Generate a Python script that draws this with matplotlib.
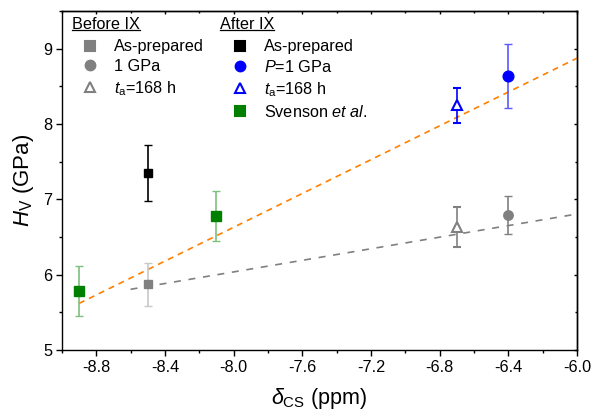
import matplotlib
matplotlib.use("Agg")
import matplotlib.pyplot as plt
from matplotlib.lines import Line2D
import numpy as np

plt.rcParams['font.family'] = ['Liberation Sans', 'DejaVu Sans']
plt.rcParams['mathtext.fontset'] = 'custom'
plt.rcParams['mathtext.rm'] = 'Liberation Sans'
plt.rcParams['mathtext.it'] = 'Liberation Sans:italic'
plt.rcParams['mathtext.bf'] = 'Liberation Sans:bold'

# Before ion exchange (IX)
before_asprep_x, before_asprep_y, before_asprep_err = [-8.5], [5.87], [0.29]
before_1gpa_x, before_1gpa_y, before_1gpa_err = [-6.4], [6.79], [0.25]
before_aged_x, before_aged_y, before_aged_err = [-6.7], [6.63], [0.27]

# After ion exchange (IX)
after_asprep_x, after_asprep_y, after_asprep_err = [-8.5], [7.35], [0.37]
after_1gpa_x, after_1gpa_y, after_1gpa_err = [-6.4], [8.64], [0.43]
after_aged_x, after_aged_y, after_aged_err = [-6.7], [8.25], [0.235]

# Literature values (Svenson et al.)
svenson_x = [-8.9, -8.1]
svenson_y = [5.78, 6.78]
svenson_err = [0.33, 0.33]

# Linear trend lines: slope, intercept, x-range
after_fit = (1.124, 15.62, (-8.9, -6.0))
before_fit = (0.385, 9.115, (-8.6, -6.0))

fig = plt.figure(figsize=(5.95, 4.13), dpi=100)
ax = fig.add_axes([0.104, 0.153, 0.866, 0.820])

GRAY = '#808080'
BLUE = '#0000ff'
GREEN = '#008000'
ORANGE = '#ff8000'
FS = 11.7

# trend lines
for (m, b, (x0, x1)), col, dsh in [(after_fit, ORANGE, (3.6, 3.0)),
                                   (before_fit, GRAY, (4.2, 4.6))]:
    xx = np.array([x0, x1])
    ax.plot(xx, m * xx + b, color=col, lw=1.2, dashes=dsh, zorder=1)

eb = dict(capsize=2.6, elinewidth=1.2, capthick=1.0, linestyle='none', zorder=3)

ax.errorbar(before_asprep_x, before_asprep_y, yerr=before_asprep_err, fmt='s', ms=6,
            color=GRAY, ecolor='#c8c8c8', **eb)
ax.errorbar(before_1gpa_x, before_1gpa_y, yerr=before_1gpa_err, fmt='o', ms=6.8,
            color=GRAY, ecolor=GRAY, **eb)
ax.errorbar(before_aged_x, before_aged_y, yerr=before_aged_err, fmt='^', ms=7,
            color=GRAY, mfc='white', mec=GRAY, mew=1.5, ecolor=GRAY, **eb)

ax.errorbar(after_asprep_x, after_asprep_y, yerr=after_asprep_err, fmt='s', ms=6,
            color='black', ecolor='black', **eb)
ax.errorbar(after_1gpa_x, after_1gpa_y, yerr=after_1gpa_err, fmt='o', ms=7.7,
            color=BLUE, ecolor='#5a5aff', **eb)
ax.errorbar(after_aged_x, after_aged_y, yerr=after_aged_err, fmt='^', ms=7,
            color=BLUE, mfc='white', mec=BLUE, mew=1.5, ecolor=BLUE, **eb)

ax.errorbar(svenson_x, svenson_y, yerr=svenson_err, fmt='s', ms=6.5,
            color=GREEN, ecolor='#7fbf7f', **eb)

ax.set_xlim(-9.0, -6.0)
ax.set_ylim(5.0, 9.5)
ax.set_xticks(np.arange(-8.8, -5.99, 0.4))
ax.set_xticks(np.arange(-9.0, -5.99, 0.2), minor=True)
ax.set_xticklabels([f"{v:.1f}" for v in np.arange(-8.8, -5.99, 0.4)])
ax.set_yticks([5, 6, 7, 8, 9])
ax.set_yticks(np.arange(5.0, 9.51, 0.5), minor=True)

ax.tick_params(which='major', direction='out', length=4, width=1.0, labelsize=FS, pad=3)
ax.tick_params(which='minor', direction='out', length=2.2, width=1.0)
for s in ax.spines.values():
    s.set_linewidth(1.0)

# inward ticks on top and right
top = ax.secondary_xaxis('top')
top.set_xticks(np.arange(-8.8, -5.99, 0.4))
top.set_xticks(np.arange(-9.0, -5.99, 0.2), minor=True)
top.tick_params(which='major', direction='in', length=2.5, width=1.0, labeltop=False)
top.tick_params(which='minor', direction='in', length=1.5, width=1.0)
right = ax.secondary_yaxis('right')
right.set_yticks([5, 6, 7, 8, 9])
right.set_yticks(np.arange(5.0, 9.51, 0.5), minor=True)
right.tick_params(which='major', direction='in', length=2.5, width=1.0, labelright=False)
right.tick_params(which='minor', direction='in', length=1.5, width=1.0)
for a in (top, right):
    for s in a.spines.values():
        s.set_linewidth(1.0)

ax.set_xlabel(r'$\delta_\mathrm{CS}$ (ppm)', fontsize=15.5, labelpad=8)
ax.set_ylabel(r'$H_\mathrm{V}$ (GPa)', fontsize=16, labelpad=5)

# legends
def handle(marker, color, filled=True, ms=7):
    return Line2D([], [], linestyle='none', marker=marker, ms=ms, color=color,
                  mfc=color if filled else 'white', mec=color, mew=1.5)

leg_kw = dict(frameon=False, fontsize=FS, handlelength=1.0, handletextpad=0.95,
              labelspacing=0.3, borderaxespad=0, borderpad=0)

h1 = [handle('s', GRAY), handle('o', GRAY), handle('^', GRAY, False)]
l1 = ['As-prepared', '1 GPa', r'$t_\mathrm{a}$=168 h']
leg1 = ax.legend(h1, l1, loc='upper left', bbox_to_anchor=(0.039, 0.917), **leg_kw)
ax.add_artist(leg1)

h2 = [handle('s', 'black'), handle('o', BLUE), handle('^', BLUE, False), handle('s', GREEN)]
l2 = ['As-prepared', r'$P$=1 GPa', r'$t_\mathrm{a}$=168 h', r'Svenson $et\ al.$']
leg2 = ax.legend(h2, l2, loc='upper left', bbox_to_anchor=(0.330, 0.917), **leg_kw)

# underlined group headers
for xpos, txt in [(0.019, 'Before IX'), (0.307, 'After IX')]:
    t = ax.text(xpos, 0.962, txt, transform=ax.transAxes, fontsize=FS,
                ha='left', va='center')
    fig.canvas.draw()
    bb = t.get_window_extent().transformed(ax.transAxes.inverted())
    ax.plot([bb.x0, bb.x1], [bb.y0 + 0.004, bb.y0 + 0.004], transform=ax.transAxes,
            color='black', lw=0.9, clip_on=False)

fig.savefig('out.png', dpi=100)
